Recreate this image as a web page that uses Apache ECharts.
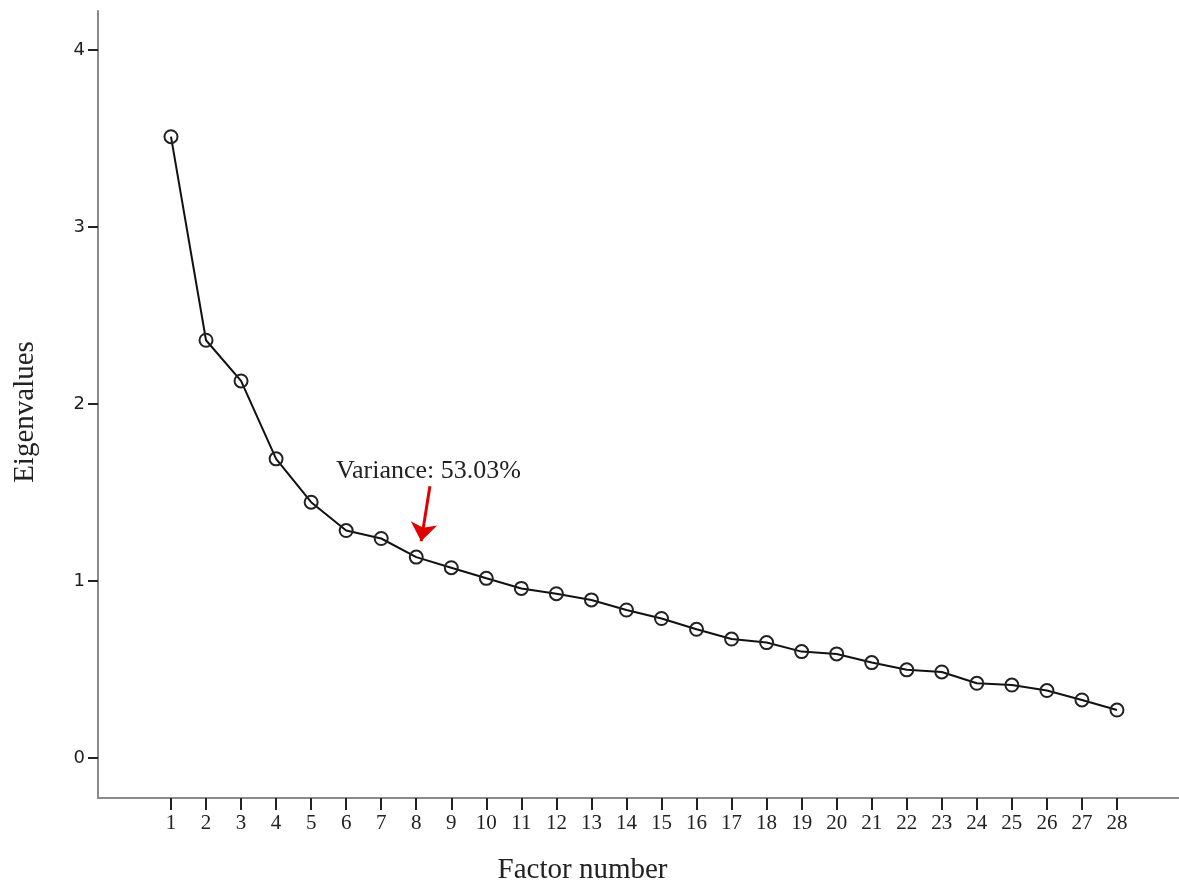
<!DOCTYPE html>
<html>
<head>
<meta charset="utf-8">
<script src="https://cdn.jsdelivr.net/npm/echarts@6/dist/echarts.min.js"></script>
<style>
html,body{margin:0;padding:0;background:#fff;}
#chart{width:1179px;height:884px;}
</style>
</head>
<body>
<div id="chart"></div>
<script>
// Data
const factors = [1,2,3,4,5,6,7,8,9,10,11,12,13,14,15,16,17,18,19,20,21,22,23,24,25,26,27,28];
const eigenvalues = [3.51,2.36,2.13,1.69,1.445,1.285,1.24,1.135,1.075,1.015,0.958,0.928,0.893,0.836,0.788,0.727,0.672,0.652,0.601,0.588,0.539,0.498,0.486,0.422,0.412,0.381,0.328,0.271];
const yTicks = [0,1,2,3,4];
const annotationText = 'Variance: 53.03%';
const annotationAt = [8.35, 1.62];
const arrowFrom = [8.39, 1.535];
const arrowTo = [8.14, 1.225];

const chart = echarts.init(document.getElementById('chart'));
chart.setOption({
  animation: false,
  backgroundColor: '#ffffff',
  grid: { left: 98, right: 0, top: 11, bottom: 86, containLabel: false, outerBoundsMode: 'none' },
  xAxis: {
    type: 'value',
    min: -1.083, max: 29.77,
    name: 'Factor number',
    nameLocation: 'middle',
    nameGap: 58,
    nameTextStyle: { fontFamily: 'Liberation Serif', fontSize: 29, color: '#222', padding: [0, 112, 0, 0] },
    axisLine: { show: true, onZero: false, lineStyle: { color: '#8a8a8a', width: 2 } },
    axisTick: { show: true, customValues: factors, length: 12, lineStyle: { color: '#222', width: 2 } },
    axisLabel: { customValues: factors, fontFamily: 'Liberation Serif', fontSize: 21, color: '#222', margin: 15 },
    splitLine: { show: false }
  },
  yAxis: {
    type: 'value',
    min: -0.226, max: 4.22,
    name: 'Eigenvalues',
    nameLocation: 'middle',
    nameGap: 58,
    nameTextStyle: { fontFamily: 'Liberation Serif', fontSize: 29, color: '#222', padding: [0, 0, 0, -15] },
    axisLine: { show: true, onZero: false, lineStyle: { color: '#8a8a8a', width: 2 } },
    axisTick: { show: true, customValues: yTicks, length: 10, lineStyle: { color: '#222', width: 2 } },
    axisLabel: { customValues: yTicks, fontFamily: 'DejaVu Sans', fontSize: 18, color: '#222', margin: 13 },
    splitLine: { show: false }
  },
  series: [{
    type: 'line',
    data: factors.map((f, i) => [f, eigenvalues[i]]),
    symbol: 'circle',
    symbolSize: 13,
    showAllSymbol: true,
    lineStyle: { color: '#111', width: 2 },
    itemStyle: { color: 'rgba(0,0,0,0)', borderColor: '#222', borderWidth: 2 },
    z: 3,
    markPoint: {
      symbol: 'circle', symbolSize: 0,
      silent: true,
      label: { show: true, formatter: annotationText, fontFamily: 'Liberation Serif', fontSize: 26, color: '#222', position: 'inside' },
      data: [{ coord: annotationAt }]
    },
    markLine: {
      silent: true,
      symbol: ['none', 'arrow'],
      symbolSize: [20, 18],
      lineStyle: { color: '#e00000', width: 3, type: 'solid' },
      label: { show: false },
      data: [[{ coord: arrowFrom }, { coord: arrowTo }]]
    }
  }]
});
</script>
</body>
</html>
